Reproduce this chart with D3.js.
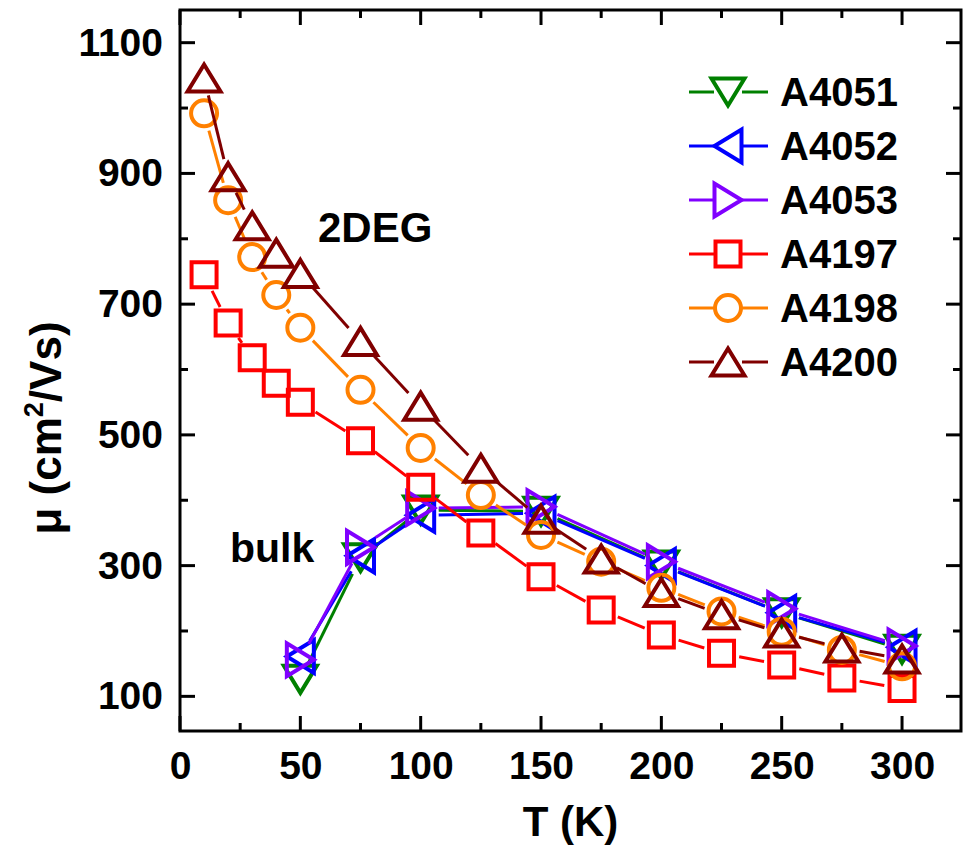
<!DOCTYPE html>
<html>
<head>
<meta charset="utf-8">
<script src="https://cdn.jsdelivr.net/npm/d3@7"></script>
<style>
  html, body { margin: 0; padding: 0; background: #fff; }
  svg { display: block; }
  text { font-family: "Liberation Sans", Arial, sans-serif; font-weight: bold; fill: #000; }
</style>
</head>
<body>
<svg id="chart" width="965" height="850"></svg>
<script>
// ---- data ----
const temps2DEG = [10, 20, 30, 40, 50, 75, 100, 125, 150, 175, 200, 225, 250, 275, 300];
const tempsBulk = [50, 75, 100, 150, 200, 250, 300];

const mu_A4051 = [126, 312, 385, 383, 301, 228, 172];
const mu_A4052 = [161, 315, 377, 380, 300, 228, 175];
const mu_A4053 = [156, 328, 388, 390, 306, 234, 177];
const mu_A4197 = [745, 671, 618, 579, 550, 491, 420, 350, 283, 232, 194, 166, 148, 128, 112];
const mu_A4198 = [992, 859, 772, 714, 664, 569, 480, 408, 347, 306, 266, 230, 199, 171, 146];
const mu_A4200 = [1046, 895, 820, 778, 747, 643, 544, 449, 371, 310, 259, 225, 197, 174, 157];

const seriesNames = ["A4051", "A4052", "A4053", "A4197", "A4198", "A4200"];
const seriesColors = ["#008000", "#0000ff", "#8000ff", "#ff0000", "#ff8000", "#800000"];
const seriesSymbols = ["down", "left", "right", "square", "circle", "up"];

const xMajorTicks = [0, 50, 100, 150, 200, 250, 300];
const xMinorTicks = [25, 75, 125, 175, 225, 275];
const yMajorTicks = [100, 300, 500, 700, 900, 1100];
const yMinorTicks = [200, 400, 600, 800, 1000];

const series = [
  { name: seriesNames[0], t: tempsBulk, v: mu_A4051, color: seriesColors[0], sym: seriesSymbols[0] },
  { name: seriesNames[1], t: tempsBulk, v: mu_A4052, color: seriesColors[1], sym: seriesSymbols[1] },
  { name: seriesNames[2], t: tempsBulk, v: mu_A4053, color: seriesColors[2], sym: seriesSymbols[2] },
  { name: seriesNames[3], t: temps2DEG, v: mu_A4197, color: seriesColors[3], sym: seriesSymbols[3] },
  { name: seriesNames[4], t: temps2DEG, v: mu_A4198, color: seriesColors[4], sym: seriesSymbols[4] },
  { name: seriesNames[5], t: temps2DEG, v: mu_A4200, color: seriesColors[5], sym: seriesSymbols[5] }
];

// ---- layout ----
const L = 180, R = 961, T = 10, B = 731;
const x = d3.scaleLinear().domain([0, 324.5]).range([L, R]);
const y = d3.scaleLinear().domain([47, 1150]).range([B, T]);

const svg = d3.select("#chart");

// symbol path generator (bbox-centred)
const TW = 33, TH = 27;
function symPath(sym) {
  const w = TW / 2, h = TH / 2;
  switch (sym) {
    case "up": return `M0,${-h}L${w},${h}L${-w},${h}Z`;
    case "down": return `M0,${h}L${w},${-h}L${-w},${-h}Z`;
    case "left": return `M${-h},0L${h},${-w}L${h},${w}Z`;
    case "right": return `M${h},0L${-h},${-w}L${-h},${w}Z`;
    case "square": return "M-12.5,-12.5H12.5V12.5H-12.5Z";
    case "circle": return "M13,0A13,13 0 1,1 -13,0A13,13 0 1,1 13,0Z";
  }
}

const gap = 18;
const plot = svg.append("g");

series.forEach(s => {
  const g = plot.append("g");
  const pts = s.t.map((t, i) => [x(t), y(s.v[i])]);
  // line segments, shortened around symbols
  for (let i = 0; i < pts.length - 1; i++) {
    const [x1, y1] = pts[i], [x2, y2] = pts[i + 1];
    const dx = x2 - x1, dy = y2 - y1, len = Math.hypot(dx, dy);
    if (len <= 2 * gap) continue;
    const ux = dx / len, uy = dy / len;
    g.append("line")
      .attr("x1", x1 + ux * gap).attr("y1", y1 + uy * gap)
      .attr("x2", x2 - ux * gap).attr("y2", y2 - uy * gap)
      .attr("stroke", s.color).attr("stroke-width", 3);
  }
  g.selectAll("path.m").data(s.t).join("path")
    .attr("class", "m")
    .attr("transform", (t, i) => `translate(${x(t)},${y(s.v[i])})`)
    .attr("d", symPath(s.sym))
    .attr("fill", "none").attr("stroke", s.color).attr("stroke-width", 4)
    .attr("stroke-linejoin", "miter");
});

// ---- frame and axes ----
const axisG = svg.append("g");
const major = 15, minor = 8;
const bottom = d3.axisBottom(x).tickValues(xMajorTicks).tickSize(0).tickPadding(20).tickFormat(d3.format("d"));
const bAx = axisG.append("g").attr("transform", `translate(0,${B})`).call(bottom);
bAx.select(".domain").remove();
bAx.selectAll("text").attr("font-size", 39).attr("font-family", "Liberation Sans").attr("font-weight", "bold").attr("dy", "0.71em");

const left = d3.axisLeft(y).tickValues(yMajorTicks).tickSize(0).tickPadding(17).tickFormat(d3.format("d"));
const lAx = axisG.append("g").attr("transform", `translate(${L},0)`).call(left);
lAx.select(".domain").remove();
lAx.selectAll("text").attr("font-size", 39).attr("font-family", "Liberation Sans").attr("font-weight", "bold");

// inward ticks on all four sides
function tickLines(vals, len) {
  vals.forEach(v => {
    axisG.append("line").attr("x1", x(v)).attr("x2", x(v)).attr("y1", B).attr("y2", B - len).attr("stroke", "#000").attr("stroke-width", 3);
    axisG.append("line").attr("x1", x(v)).attr("x2", x(v)).attr("y1", T).attr("y2", T + len).attr("stroke", "#000").attr("stroke-width", 3);
  });
}
function tickLinesY(vals, len) {
  vals.forEach(v => {
    axisG.append("line").attr("x1", L).attr("x2", L + len).attr("y1", y(v)).attr("y2", y(v)).attr("stroke", "#000").attr("stroke-width", 3);
    axisG.append("line").attr("x1", R).attr("x2", R - len).attr("y1", y(v)).attr("y2", y(v)).attr("stroke", "#000").attr("stroke-width", 3);
  });
}
tickLines(xMajorTicks, major);
tickLines(xMinorTicks, minor);
tickLinesY(yMajorTicks, major);
tickLinesY(yMinorTicks, minor);

axisG.append("rect").attr("x", L).attr("y", T).attr("width", R - L).attr("height", B - T)
  .attr("fill", "none").attr("stroke", "#000").attr("stroke-width", 3);

// ---- axis titles ----
svg.append("text").attr("x", (L + R) / 2).attr("y", 836).attr("text-anchor", "middle")
  .attr("font-size", 42).text("T (K)");

const yt = svg.append("text").attr("transform", "translate(61,428) rotate(-90)")
  .attr("text-anchor", "middle").attr("font-size", 44);
yt.append("tspan").text("μ (cm");
yt.append("tspan").attr("font-size", 27).attr("dy", -18).text("2");
yt.append("tspan").attr("dy", 18).text("/Vs)");

// ---- annotations ----
svg.append("text").attr("x", 318).attr("y", 242).attr("font-size", 42).text("2DEG");
svg.append("text").attr("x", 230).attr("y", 562).attr("font-size", 41).text("bulk");

// ---- legend ----
const legY0 = 92, legDy = 54;
series.forEach((s, i) => {
  const cy = legY0 + i * legDy;
  const g = svg.append("g");
  g.append("line").attr("x1", 689).attr("x2", 728 - 14).attr("y1", cy).attr("y2", cy).attr("stroke", s.color).attr("stroke-width", 3);
  g.append("line").attr("x1", 728 + 14).attr("x2", 768).attr("y1", cy).attr("y2", cy).attr("stroke", s.color).attr("stroke-width", 3);
  g.append("path").attr("transform", `translate(728,${cy})`).attr("d", symPath(s.sym))
    .attr("fill", "none").attr("stroke", s.color).attr("stroke-width", 4);
  g.append("text").attr("x", 780).attr("y", cy + 14).attr("font-size", 40).text(s.name);
});
</script>
</body>
</html>
